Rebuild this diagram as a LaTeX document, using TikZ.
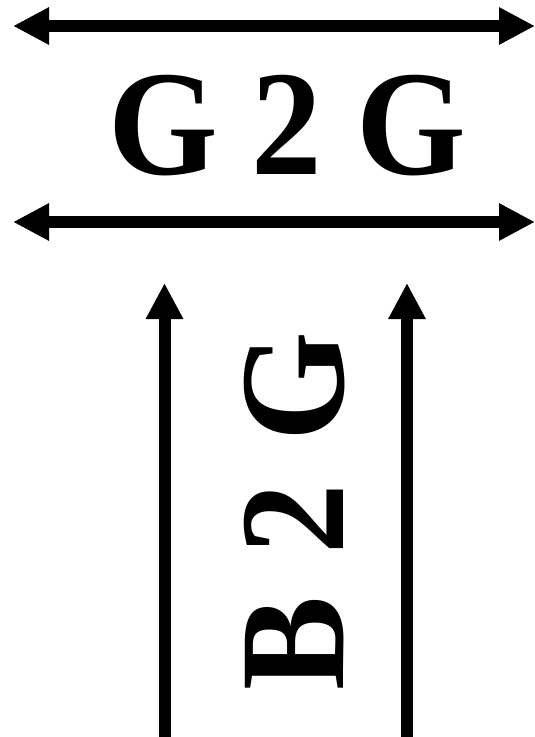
\documentclass[tikz,border=0pt]{standalone}
\usepackage{fontspec}
\setmainfont{Liberation Serif}
\newfontfamily\lblfont{Liberation Serif}[FakeStretch=0.94]
\usetikzlibrary{arrows.meta}
\begin{document}
\begin{tikzpicture}[x=1pt,y=-1pt,
  arr/.style={line width=12pt,-{Triangle[length=36pt,width=35pt]}},
  darr/.style={line width=12pt,{Triangle[length=36pt,width=35pt]}-{Triangle[length=36pt,width=35pt]}},
  lbl/.style={inner sep=0pt,anchor=base,font=\lblfont\fontsize{150}{150}\selectfont\bfseries}]
\useasboundingbox (0,0) rectangle (535,737);
\coordinate (t1) at (13,26);
\coordinate (t2) at (535,26);
\coordinate (b1) at (13,222);
\coordinate (b2) at (535,222);
\draw[darr] (t1) -- (t2);
\draw[darr] (b1) -- (b2);
\node[lbl] (g2g) at (287,174.5) {G\hspace{34pt}2\hspace{34pt}G};
\coordinate (l0) at (164.5,740);
\coordinate (l1) at (164.5,283);
\coordinate (r0) at (407,740);
\coordinate (r1) at (407,283);
\draw[arr] (l0) -- (l1);
\draw[arr] (r0) -- (r1);
\node[lbl,rotate=90] (b2g) at (343,511) {B\hspace{42pt}2\hspace{42pt}G};
\end{tikzpicture}
\end{document}
